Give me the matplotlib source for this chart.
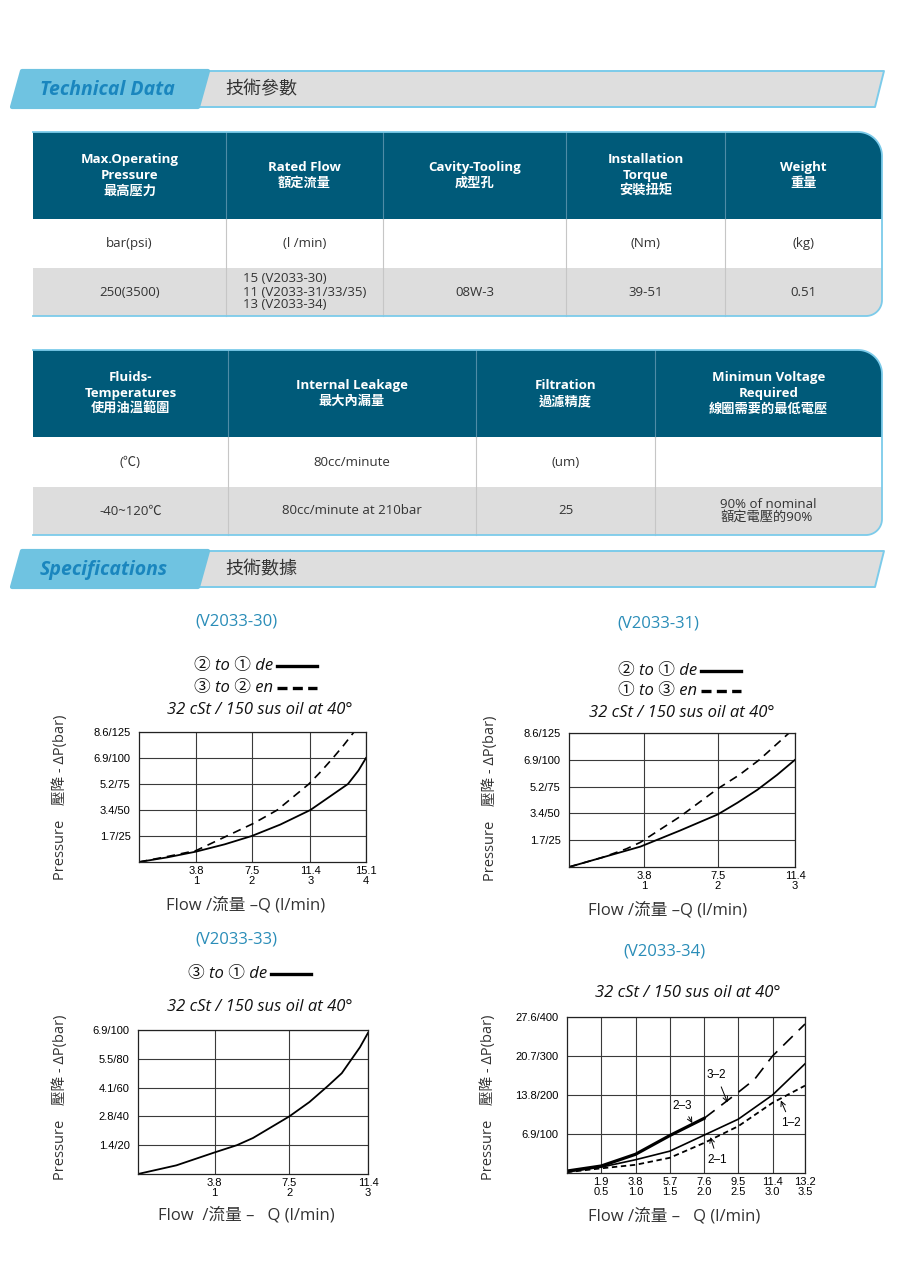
import matplotlib
matplotlib.use("Agg")
import matplotlib.pyplot as plt
import numpy as np
from matplotlib.patches import Polygon, Rectangle
from matplotlib.lines import Line2D

plt.rcParams['font.family'] = ['Open Sans', 'Noto Sans CJK TC', 'DejaVu Sans']

W, H = 900, 1274

# ---- table data ----
tech_headers = ["Max.Operating\nPressure\n最高壓力", "Rated Flow\n額定流量", "Cavity-Tooling\n成型孔",
                "Installation\nTorque\n安裝扭矩", "Weight\n重量"]
tech_units = ["bar(psi)", "(l /min)", "", "(Nm)", "(kg)"]
tech_values = ["250(3500)", "15 (V2033-30)\n11 (V2033-31/33/35)\n13 (V2033-34)", "08W-3", "39-51", "0.51"]

fluid_headers = ["Fluids-\nTemperatures\n使用油溫範圍", "Internal Leakage\n最大內漏量", "Filtration\n過濾精度",
                 "Minimun Voltage\nRequired\n線圈需要的最低電壓"]
fluid_units = ["(℃)", "80cc/minute", "(um)", ""]
fluid_values = ["-40~120℃", "80cc/minute at 210bar", "25", "90% of nominal\n額定電壓的90%"]

# ---- chart data (flow l/min, pressure psi) ----
q30_de = [0, 1.9, 3.8, 5.7, 7.5, 9.4, 11.4, 12.7, 13.9, 14.6, 15.1]
dp30_de = [0, 4.5, 10, 17, 25, 36, 50, 63, 75, 88, 100]
q30_en = [0, 1.8, 3.8, 5.7, 7.6, 9.2, 11.3, 12.1, 12.9, 13.6, 14.3]
dp30_en = [0, 5, 11, 24, 37, 50, 75, 87, 100, 112, 125]

q31_de = [0, 1.7, 3.6, 5.6, 7.5, 8.5, 9.5, 10.5, 11.4]
dp31_de = [0, 9, 19, 34, 49, 60, 72, 86, 100]
q31_en = [0, 1.7, 2.9, 3.6, 5.6, 7.5, 8.6, 9.6, 11.1]
dp31_en = [0, 9, 17, 23, 47, 73, 86, 100, 125]

q33 = [0, 1.9, 3.8, 4.9, 5.7, 7.5, 8.5, 9.4, 10.1, 10.6, 11.0, 11.4]
dp33 = [0, 6, 15, 20, 25, 40, 50, 61, 70, 80, 88, 98]

q34 = [0, 1.9, 3.8, 5.7, 7.6, 9.5, 11.4, 13.2]
dp34_23 = [5, 18, 48, 96, 140]
q34_32 = [7.6, 9.5, 10.4, 11.4, 13.2]
dp34_32 = [140, 207, 240, 300, 382]
dp34_21 = [3, 15, 34, 56, 97, 138, 200, 280]
dp34_12 = [2, 12, 21, 39, 77, 120, 180, 224]

ticks_3 = [3.8, 7.5, 11.4]
ticks_3_lbl = ["3.8\n1", "7.5\n2", "11.4\n3"]
ticks_4 = [3.8, 7.5, 11.4, 15.1]
ticks_4_lbl = ["3.8\n1", "7.5\n2", "11.4\n3", "15.1\n4"]
ticks_34 = [1.9, 3.8, 5.7, 7.6, 9.5, 11.4, 13.2]
ticks_34_lbl = ["1.9\n0.5", "3.8\n1.0", "5.7\n1.5", "7.6\n2.0", "9.5\n2.5", "11.4\n3.0", "13.2\n3.5"]
yt_125 = [25, 50, 75, 100, 125]
yt_125_lbl = ["1.7/25", "3.4/50", "5.2/75", "6.9/100", "8.6/125"]
yt_100 = [20, 40, 60, 80, 100]
yt_100_lbl = ["1.4/20", "2.8/40", "4.1/60", "5.5/80", "6.9/100"]
yt_400 = [100, 200, 300, 400]
yt_400_lbl = ["6.9/100", "13.8/200", "20.7/300", "27.6/400"]

TEAL = "#005A79"
LIGHT_BLUE = "#7CCBEA"
TITLE_BLUE = "#2A8DB8"

fig = plt.figure(figsize=(W / 100, H / 100), dpi=100)
page = fig.add_axes([0, 0, 1, 1])
page.set_xlim(0, W)
page.set_ylim(H, 0)
page.axis("off")


def banner(y0, y1, title, sub):
    gray = Polygon([(190, y1), (200, y0), (884, y0), (875, y1)], closed=True,
                   fc="#DEDEDE", ec=LIGHT_BLUE, lw=1.4, joinstyle="round")
    tab = Polygon([(12, y1), (22, y0), (208, y0), (198, y1)], closed=True,
                  fc="#6FC3E1", ec="#6FC3E1", lw=3, joinstyle="round")
    page.add_patch(gray)
    page.add_patch(tab)
    ym = (y0 + y1) / 2
    page.text(40, ym + 1, title, ha="left", va="center", fontsize=14, fontweight="bold",
              style="italic", color="#1A86BE")
    page.text(225, ym, sub, ha="left", va="center", fontsize=13, color="#333333")


def table(xs, ys, headers, units, values, rt=24, rb=16):
    x0, x1 = xs[0], xs[-1]
    y0, y3 = ys[0], ys[-1]
    a1 = np.radians(np.linspace(-90, 0, 20))
    a2 = np.radians(np.linspace(0, 90, 20))
    pts = [(x0, y0)]
    pts += list(zip(x1 - rt + rt * np.cos(a1), y0 + rt + rt * np.sin(a1)))
    pts += list(zip(x1 - rb + rb * np.cos(a2), y3 - rb + rb * np.sin(a2)))
    pts += [(x0, y3)]
    shape = Polygon(pts, closed=True, fc="none", ec="none")
    page.add_patch(shape)
    fills = [TEAL, "white", "#DDDDDD"]
    for i in range(3):
        r = Rectangle((x0, ys[i]), x1 - x0, ys[i + 1] - ys[i], fc=fills[i], ec="none")
        page.add_patch(r)
        r.set_clip_path(shape)
    for x in xs[1:-1]:
        page.add_line(Line2D([x, x], [ys[0], ys[1]], color="#4F8CA6", lw=0.8))
        page.add_line(Line2D([x, x], [ys[1], ys[3]], color="#C6C6C6", lw=0.8))
    px, py = zip(*pts)
    page.add_line(Line2D(px, py, color=LIGHT_BLUE, lw=1.3))
    for i in range(len(headers)):
        cx = (xs[i] + xs[i + 1]) / 2
        page.text(cx, (ys[0] + ys[1]) / 2, headers[i], ha="center", va="center", fontsize=9.5,
                  fontweight="bold", color="white", linespacing=1.3)
        page.text(cx, (ys[1] + ys[2]) / 2, units[i], ha="center", va="center", fontsize=9.5,
                  color="#333333")
        page.text(cx, (ys[2] + ys[3]) / 2, values[i], ha="center", va="center", fontsize=9.5,
                  color="#333333", multialignment="left", linespacing=1.0)


def chart_axes(l, t, r, b):
    return fig.add_axes([l / W, 1 - b / H, (r - l) / W, (b - t) / H])


def style_chart(ax, xmax, ymax, xt, xl, yt, yl):
    ax.set_xlim(0, xmax)
    ax.set_ylim(0, ymax)
    ax.set_xticks(xt)
    ax.set_xticklabels(xl, fontsize=8, family="Liberation Sans", linespacing=0.95)
    ax.set_yticks(yt)
    ax.set_yticklabels(yl, fontsize=8, family="Liberation Sans")
    ax.tick_params(length=0)
    ax.tick_params(axis="x", pad=3)
    ax.tick_params(axis="y", pad=6)
    ax.grid(True, color="#3A3A3A", lw=0.8)
    ax.set_axisbelow(True)
    for sp in ax.spines.values():
        sp.set_color("#222222")
        sp.set_linewidth(0.9)


def chart_texts(cx, title_y, title, legend, sub_y, sub, xl_y, xlabel, yl_x, yl_y):
    page.text(cx, title_y, title, ha="center", va="center", fontsize=12, color=TITLE_BLUE)
    for txt, ly, dashed, lx in legend:
        page.text(lx, ly, txt, ha="right", va="center", fontsize=12, style="italic",
                  family=["Open Sans", "Noto Sans CJK JP"], color="#111111")
        ln = Line2D([lx + 4, lx + 44], [ly, ly], color="black", lw=2.4)
        if dashed:
            ln.set_dashes((3, 1.6))
        page.add_line(ln)
    page.text(cx + 24, sub_y, sub, ha="center", va="center", fontsize=12, style="italic",
              color="#111111")
    page.text(cx + 10, xl_y, xlabel, ha="center", va="center", fontsize=12, color="#333333")
    page.text(yl_x, yl_y, "Pressure　壓降 - ΔP(bar)", ha="center", va="center", rotation=90,
              fontsize=10.5, color="#333333")


SUB = "32 cSt / 150 sus oil at 40°"

banner(71, 107, "Technical Data", "技術參數")
table([33, 226, 383, 566, 725, 882], [132, 219, 268, 316], tech_headers, tech_units, tech_values)
table([33, 228, 476, 655, 882], [350, 437, 487, 535], fluid_headers, fluid_units, fluid_values)
banner(551, 587, "Specifications", "技術數據")

# V2033-30
ax1 = chart_axes(139, 732, 366, 862)
style_chart(ax1, 15.1, 125, ticks_4, ticks_4_lbl, yt_125, yt_125_lbl)
ax1.plot(q30_de, dp30_de, color="black", lw=1.3)
ax1.plot(q30_en, dp30_en, color="black", lw=1.2, dashes=(5, 3.5))
chart_texts(236, 622, "(V2033-30)",
            [("② to ① de", 666, False, 273), ("③ to ② en", 688, True, 273)],
            710, SUB, 905, "Flow /流量 –Q (l/min)", 60, 797)

# V2033-31
ax2 = chart_axes(569, 733, 795, 867)
style_chart(ax2, 11.4, 125, ticks_3, ticks_3_lbl, yt_125, yt_125_lbl)
ax2.plot(q31_de, dp31_de, color="black", lw=1.3)
ax2.plot(q31_en, dp31_en, color="black", lw=1.2, dashes=(5, 3.5))
chart_texts(658, 623, "(V2033-31)",
            [("② to ① de", 671, False, 697), ("① to ③ en", 691, True, 697)],
            713, SUB, 910, "Flow /流量 –Q (l/min)", 490, 798)

# V2033-33
ax3 = chart_axes(138, 1030, 368, 1174)
style_chart(ax3, 11.4, 100, ticks_3, ticks_3_lbl, yt_100, yt_100_lbl)
ax3.plot(q33, dp33, color="black", lw=1.3)
chart_texts(236, 940, "(V2033-33)", [("③ to ① de", 974, False, 267)],
            1007, SUB, 1215, "Flow  /流量 –   Q (l/min)", 60, 1097)

# V2033-34
ax4 = chart_axes(567, 1017, 805, 1173)
style_chart(ax4, 13.2, 400, ticks_34, ticks_34_lbl, yt_400, yt_400_lbl)
ax4.plot(q34[:5], dp34_23, color="black", lw=2.3)
ax4.plot(q34_32, dp34_32, color="black", lw=1.2, dashes=(8, 5))
ax4.plot(q34, dp34_21, color="black", lw=1.2)
ax4.plot(q34, dp34_12, color="black", lw=1.3, dashes=(3, 2))
arrow = dict(arrowstyle="->", lw=0.7, color="black", shrinkA=2, shrinkB=0)
ax4.annotate("3–2", xy=(8.9, 181), xytext=(8.3, 250), fontsize=8.5, family="Liberation Sans",
             ha="center", va="center", arrowprops=arrow)
ax4.annotate("2–3", xy=(6.95, 128), xytext=(6.4, 173), fontsize=8.5, family="Liberation Sans",
             ha="center", va="center", arrowprops=arrow)
ax4.annotate("1–2", xy=(11.86, 186), xytext=(12.4, 128), fontsize=8.5, family="Liberation Sans",
             ha="center", va="center", arrowprops=arrow)
ax4.annotate("2–1", xy=(7.95, 92), xytext=(8.35, 34), fontsize=8.5, family="Liberation Sans",
             ha="center", va="center", arrowprops=arrow)
chart_texts(664, 951, "(V2033-34)", [], 993, SUB, 1216, "Flow /流量 –   Q (l/min)", 488, 1097)

fig.savefig("out.png", dpi=100)
